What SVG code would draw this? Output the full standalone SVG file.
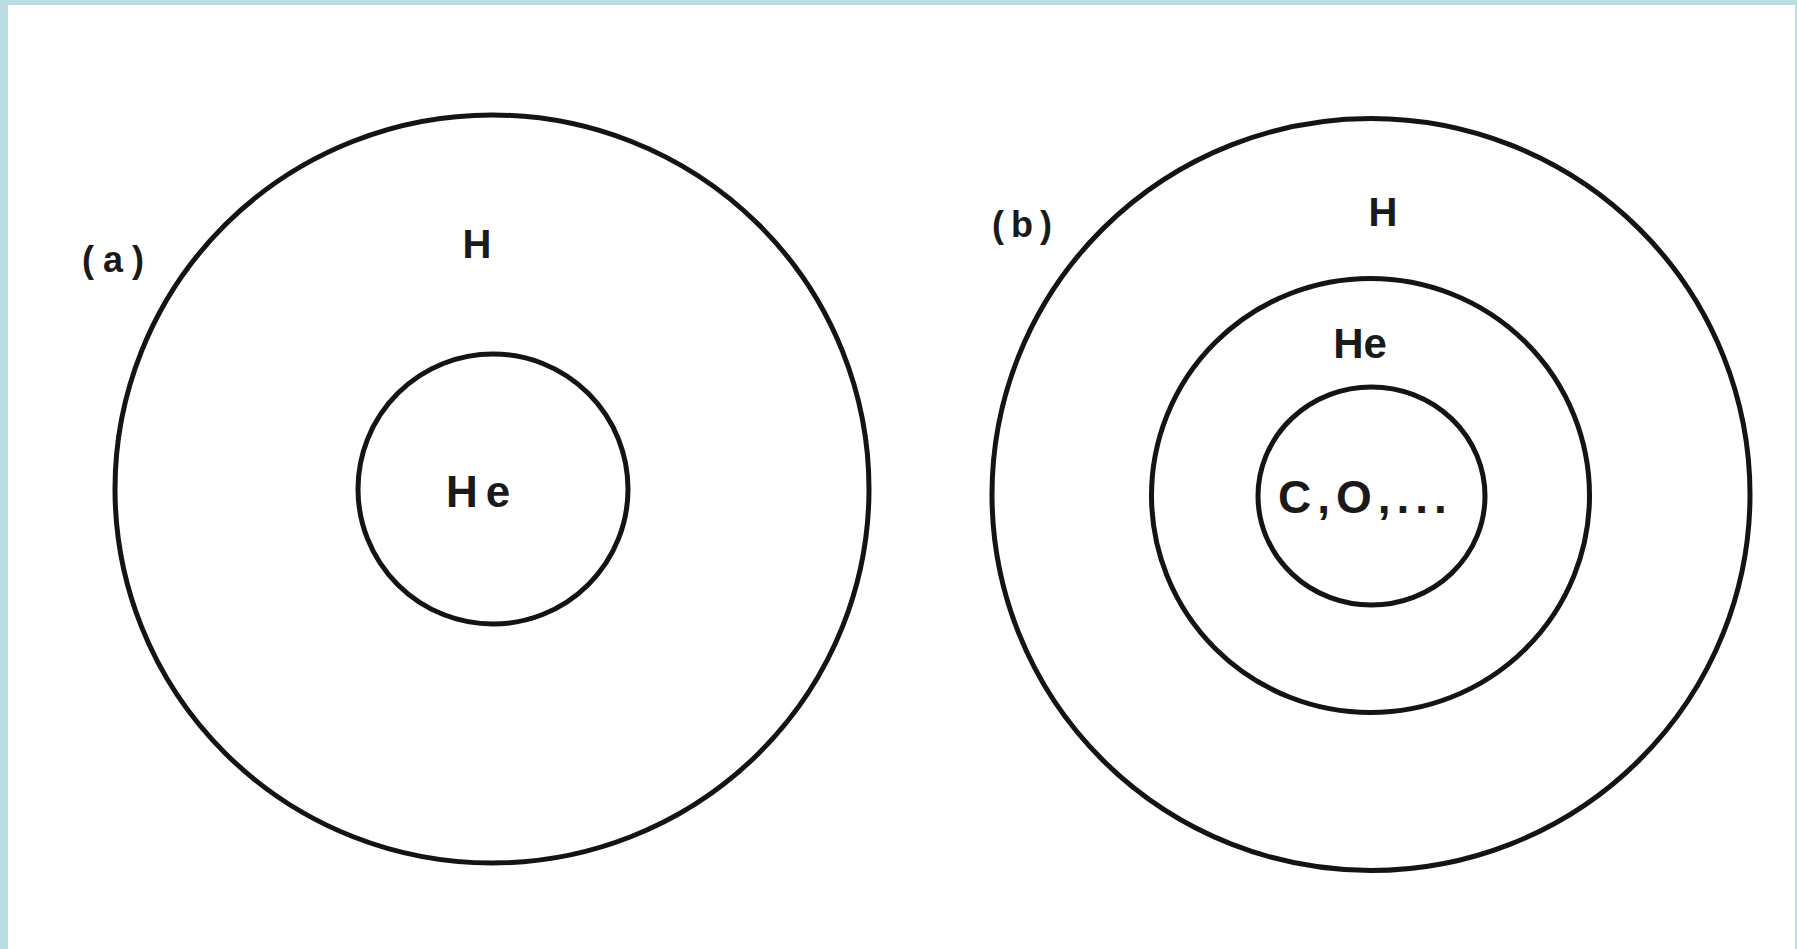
<svg xmlns="http://www.w3.org/2000/svg" width="1797" height="949" viewBox="0 0 1797 949">
<style>
.ring{fill:none;stroke:#141414;stroke-width:5}
.lbl{font-family:"Liberation Sans","DejaVu Sans",sans-serif;fill:#1a1a1a;font-weight:bold}
</style>
<rect x="0" y="0" width="1797" height="949" fill="#b9dde1"/>
<rect x="8" y="5" width="1787" height="944" fill="#ffffff"/>
<g id="panel-a">
<g id="a-outer"><ellipse class="ring" cx="492" cy="489" rx="377" ry="374"/></g>
<g id="a-inner"><ellipse class="ring" cx="493" cy="489" rx="135" ry="135"/></g>
<text class="lbl" x="82" y="272" font-size="36" letter-spacing="9">(a)</text>
<text class="lbl" x="477" y="258" font-size="40" text-anchor="middle">H</text>
<text class="lbl" x="482" y="507" font-size="44" text-anchor="middle" letter-spacing="8">He</text>
</g>
<g id="panel-b">
<g id="b-outer"><ellipse class="ring" cx="1371" cy="494.5" rx="379" ry="376"/></g>
<g id="b-middle"><ellipse class="ring" cx="1370.5" cy="495.5" rx="219" ry="217"/></g>
<g id="b-inner"><ellipse class="ring" cx="1371.5" cy="496" rx="113.5" ry="109"/></g>
<text class="lbl" x="992" y="237" font-size="36" letter-spacing="7">(b)</text>
<text class="lbl" x="1383" y="226" font-size="40" text-anchor="middle">H</text>
<text class="lbl" x="1360" y="358" font-size="42" text-anchor="middle">He</text>
<text class="lbl" x="1278" y="513" font-size="46" letter-spacing="6">C,O,...</text>
</g>
</svg>
